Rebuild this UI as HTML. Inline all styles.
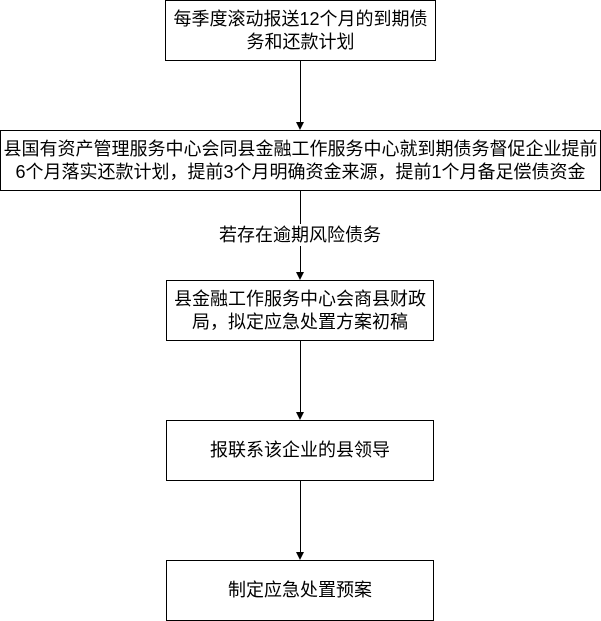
<!DOCTYPE html>
<html><head><meta charset="utf-8"><style>
html,body{margin:0;padding:0;background:#fff;}
body{width:601px;height:621px;position:relative;overflow:hidden;font-family:"Liberation Sans","Noto Sans CJK SC",sans-serif;font-size:18px;color:#000;}
.b{position:absolute;box-sizing:border-box;border:1.3px solid #000;background:#fff;display:flex;align-items:center;justify-content:center;text-align:center;line-height:23px;white-space:nowrap;}
.l{position:absolute;left:300px;width:1px;background:#000;}
.a{position:absolute;left:296px;width:0;height:0;border-left:4.5px solid transparent;border-right:4.5px solid transparent;border-top:8px solid #000;}
.t{position:absolute;background:#fff;white-space:nowrap;line-height:22px;}
</style></head><body>
<div class="b" style="left:165px;top:0;width:271px;height:61px;">每季度滚动报送12个月的到期债<br>务和还款计划</div>
<div class="l" style="top:60px;height:64px;"></div><div class="a" style="top:122px;"></div>
<div class="b" style="left:0;top:130px;width:601px;height:61px;">县国有资产管理服务中心会同县金融工作服务中心就到期债务督促企业提前<br>6个月落实还款计划，提前3个月明确资金来源，提前1个月备足偿债资金</div>
<div class="l" style="top:190px;height:84px;"></div><div class="a" style="top:272px;"></div>
<div class="t" style="left:219px;top:224px;">若存在逾期风险债务</div>
<div class="b" style="left:166px;top:280px;width:268px;height:61px;">县金融工作服务中心会商县财政<br>局，拟定应急处置方案初稿</div>
<div class="l" style="top:340px;height:74px;"></div><div class="a" style="top:412px;"></div>
<div class="b" style="left:166px;top:420px;width:268px;height:61px;">报联系该企业的县领导</div>
<div class="l" style="top:480px;height:74px;"></div><div class="a" style="top:552px;"></div>
<div class="b" style="left:166px;top:560px;width:268px;height:61px;">制定应急处置预案</div>
</body></html>
